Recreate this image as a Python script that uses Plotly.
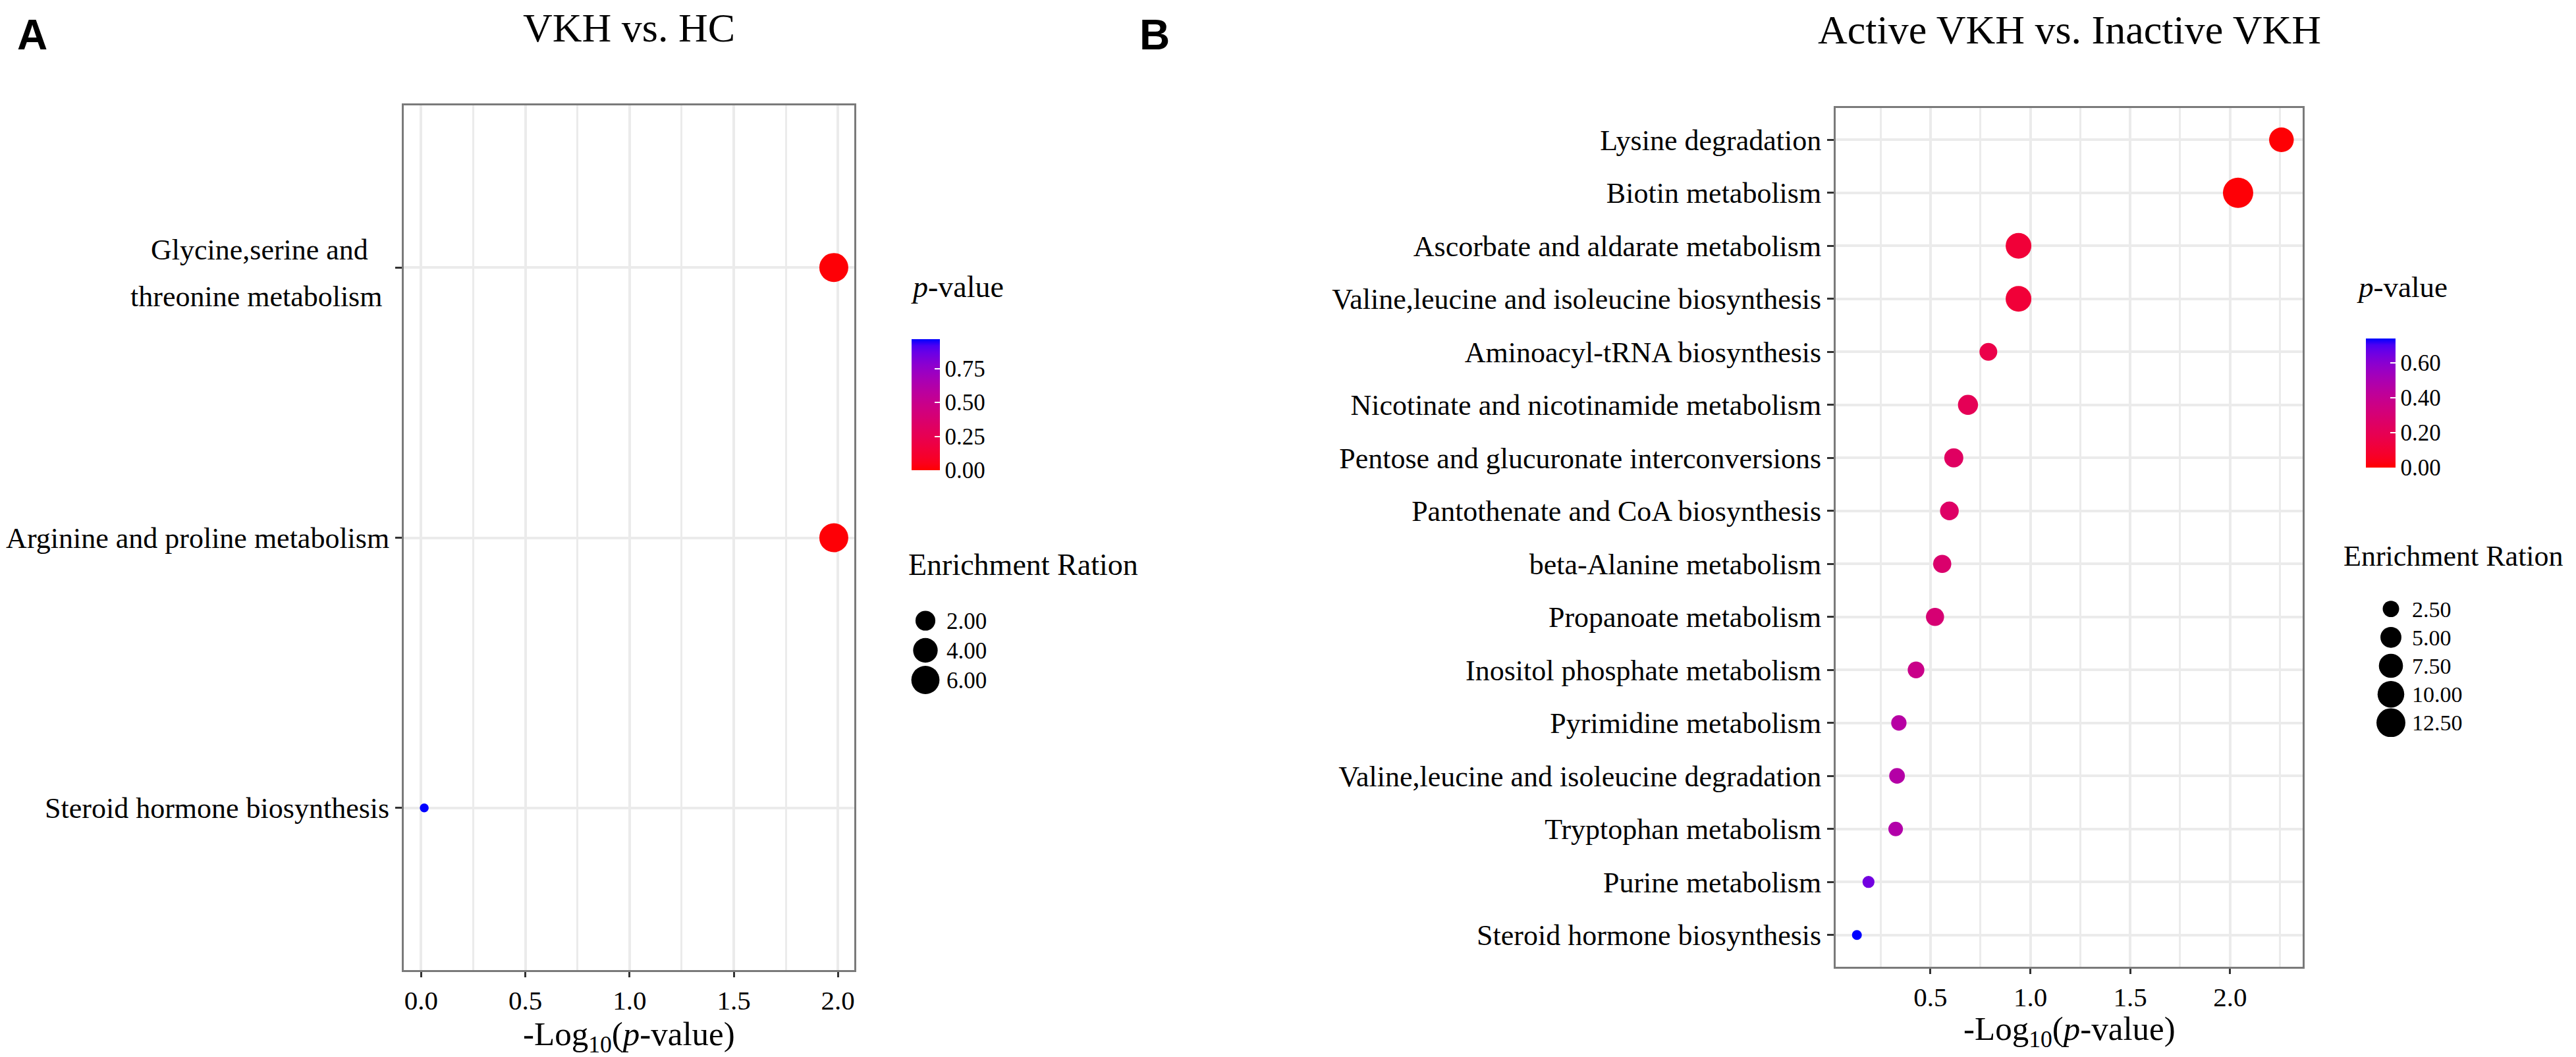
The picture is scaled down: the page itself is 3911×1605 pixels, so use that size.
import plotly.graph_objects as go

W, H = 3911, 1605

# ---------------- data ----------------
catsA = ["Glycine,serine and threonine metabolism",
         "Arginine and proline metabolism",
         "Steroid hormone biosynthesis"]
glycine_lines = ["Glycine,serine and", "threonine metabolism"]
neglogA = [1.98, 1.98, 0.015]
enrichA = [6.5, 6.5, 0.1]

catsB = ["Lysine degradation",
         "Biotin metabolism",
         "Ascorbate and aldarate metabolism",
         "Valine,leucine and isoleucine biosynthesis",
         "Aminoacyl-tRNA biosynthesis",
         "Nicotinate and nicotinamide metabolism",
         "Pentose and glucuronate interconversions",
         "Pantothenate and CoA biosynthesis",
         "beta-Alanine metabolism",
         "Propanoate metabolism",
         "Inositol phosphate metabolism",
         "Pyrimidine metabolism",
         "Valine,leucine and isoleucine degradation",
         "Tryptophan metabolism",
         "Purine metabolism",
         "Steroid hormone biosynthesis"]
neglogB = [2.257, 2.04, 0.941, 0.941, 0.79, 0.688, 0.617, 0.595,
           0.559, 0.523, 0.428, 0.342, 0.333, 0.326, 0.19, 0.132]
enrichB = [8.0, 14.2, 9.0, 9.0, 3.1, 4.4, 3.8, 3.6,
           3.3, 3.3, 2.6, 2.1, 2.2, 1.85, 1.3, 1.16]

size_breaksA = [2.0, 4.0, 6.0]
size_breaksB = [2.5, 5.0, 7.5, 10.0, 12.5]
cbar_ticksA = [0.0, 0.25, 0.5, 0.75]
cbar_ticksB = [0.0, 0.2, 0.4, 0.6]
xticksA = [0.0, 0.5, 1.0, 1.5, 2.0]
xticksB = [0.5, 1.0, 1.5, 2.0]

titleA = "VKH vs. HC"
titleB = "Active VKH vs. Inactive VKH"
xtitle = "-Log<sub>10</sub>(<i>p</i>-value)"

# p-values implied by the x axis (-log10 p)
pA = [10 ** (-v) for v in neglogA]
pB = [10 ** (-v) for v in neglogB]

SERIF = "Liberation Serif"


# ---------------- helpers ----------------
def fx(px):
    return px / W


def fy(py):
    return 1 - py / H


def lab_ramp(c1, c2, n=21):
    Xn, Yn, Zn = 0.95047, 1.0, 1.08883

    def to_lab(rgb):
        lin = []
        for c in rgb:
            c = c / 255
            lin.append(c / 12.92 if c <= 0.04045 else ((c + 0.055) / 1.055) ** 2.4)
        R, G, B = lin
        X = 0.4124564 * R + 0.3575761 * G + 0.1804375 * B
        Y = 0.2126729 * R + 0.7151522 * G + 0.0721750 * B
        Z = 0.0193339 * R + 0.1191920 * G + 0.9503041 * B

        def f(t):
            d = 6 / 29
            return t ** (1 / 3) if t > d ** 3 else t / (3 * d * d) + 4 / 29
        return (116 * f(Y / Yn) - 16, 500 * (f(X / Xn) - f(Y / Yn)),
                200 * (f(Y / Yn) - f(Z / Zn)))

    def to_rgb(L, a, b):
        d = 6 / 29
        fy_ = (L + 16) / 116
        fx_ = fy_ + a / 500
        fz_ = fy_ - b / 200

        def finv(t):
            return t ** 3 if t > d else 3 * d * d * (t - 4 / 29)
        X, Y, Z = Xn * finv(fx_), Yn * finv(fy_), Zn * finv(fz_)
        R = 3.2404542 * X - 1.5371385 * Y - 0.4985314 * Z
        G = -0.9692660 * X + 1.8760108 * Y + 0.0415560 * Z
        B = 0.0556434 * X - 0.2040259 * Y + 1.0572252 * Z
        out = []
        for c in (R, G, B):
            c = 12.92 * c if c <= 0.0031308 else 1.055 * max(c, 0) ** (1 / 2.4) - 0.055
            out.append(int(round(min(max(c, 0), 1) * 255)))
        return "rgb(%d,%d,%d)" % tuple(out)

    l1, l2 = to_lab(c1), to_lab(c2)
    scale = []
    for i in range(n):
        t = i / (n - 1)
        lab = [l1[k] + (l2[k] - l1[k]) * t for k in range(3)]
        scale.append([t, to_rgb(*lab)])
    return scale


CSCALE = lab_ramp((255, 0, 0), (0, 0, 255))


def size_map(vals, vmin, vmax, dmin, dmax):
    out = []
    for v in vals:
        t = (v - vmin) / (vmax - vmin)
        t = min(max(t, 0), 1)
        out.append(dmin + (dmax - dmin) * t ** 0.5)
    return out


def expand(vals, mult=0.05):
    lo, hi = min(vals), max(vals)
    s = hi - lo
    return [lo - mult * s, hi + mult * s]


# pixel size ranges for the size scale
DMIN_A, DMAX_A = 13.5, 44
DMIN_B, DMAX_B = 15, 46

fig = go.Figure()

# ---------------- panel A ----------------
fig.add_trace(go.Scatter(
    x=neglogA, y=catsA, mode="markers", xaxis="x", yaxis="y",
    marker=dict(size=size_map(enrichA, min(enrichA), max(enrichA), DMIN_A, DMAX_A),
                color=pA, coloraxis="coloraxis", line=dict(width=0), opacity=1),
    showlegend=False, hoverinfo="skip"))

# ---------------- panel B ----------------
fig.add_trace(go.Scatter(
    x=neglogB, y=catsB, mode="markers", xaxis="x2", yaxis="y2",
    marker=dict(size=size_map(enrichB, min(enrichB), max(enrichB), DMIN_B, DMAX_B),
                color=pB, coloraxis="coloraxis2", line=dict(width=0), opacity=1),
    showlegend=False, hoverinfo="skip"))

# ---------------- size legends ----------------
labA = ["%.2f" % v for v in size_breaksA]
labB = ["%.2f" % v for v in size_breaksB]
fig.add_trace(go.Scatter(
    x=[0] * len(size_breaksA), y=labA, mode="markers", xaxis="x3", yaxis="y3",
    marker=dict(size=size_map(size_breaksA, min(enrichA), max(enrichA), DMIN_A, DMAX_A),
                color="#000000", line=dict(width=0), opacity=1),
    showlegend=False, hoverinfo="skip"))
fig.add_trace(go.Scatter(
    x=[0] * len(size_breaksB), y=labB, mode="markers", xaxis="x4", yaxis="y4",
    marker=dict(size=size_map(size_breaksB, min(enrichB), max(enrichB), DMIN_B, DMAX_B),
                color="#000000", line=dict(width=0), opacity=1),
    showlegend=False, hoverinfo="skip"))

GRID = "#EBEBEB"
BORDER = "#7A7A7A"


def xaxis_cfg(domain, rng, tickvals):
    return dict(domain=domain, range=rng, tickmode="array", tickvals=tickvals,
                ticktext=["%.1f" % v for v in tickvals],
                showgrid=True, gridcolor=GRID, gridwidth=3.5,
                minor=dict(tick0=0, dtick=0.25, showgrid=True, gridcolor=GRID,
                           gridwidth=2.5, ticks=""),
                zeroline=False, showline=True, mirror=True, linecolor=BORDER,
                linewidth=3, ticks="outside", ticklen=8, tickwidth=3,
                tickcolor="#333333",
                tickfont=dict(family=SERIF, size=41, color="black"))


def yaxis_cfg(domain, cats, ticktext, anchor):
    n = len(cats)
    return dict(domain=domain, type="category", categoryorder="array",
                categoryarray=cats[::-1], range=[-0.6, n - 1 + 0.6],
                tickmode="array", tickvals=cats, ticktext=ticktext,
                showgrid=True, gridcolor=GRID, gridwidth=3.5, zeroline=False,
                showline=True, mirror=True, linecolor=BORDER, linewidth=3,
                ticks="outside", ticklen=10, tickwidth=3, tickcolor="#333333",
                tickfont=dict(family=SERIF, size=44, color="black"), anchor=anchor)


# panel A: the two-line label is drawn as annotations (wider line spacing)
ticktextA = [""] + catsA[1:]


def cbar(x_left, y_bottom, length, thick, ticks):
    return dict(x=fx(x_left), xanchor="left", xpad=0,
                y=fy(y_bottom), yanchor="bottom", ypad=0,
                len=length, lenmode="pixels", thickness=thick,
                thicknessmode="pixels", outlinewidth=0,
                tickmode="array", tickvals=ticks,
                ticktext=["%.2f" % v for v in ticks],
                ticks="inside", ticklen=8, tickwidth=2, tickcolor="white",
                tickfont=dict(family=SERIF, size=35, color="black"))


fig.update_layout(
    width=W, height=H, margin=dict(l=0, r=0, t=0, b=0),
    paper_bgcolor="white", plot_bgcolor="white",
    font=dict(family=SERIF, color="black"),
    xaxis=dict(**xaxis_cfg([fx(605), fx(1289)], expand(neglogA), xticksA), anchor="y"),
    yaxis=yaxis_cfg([fy(1465), fy(152)], catsA, ticktextA, "x"),
    xaxis2=dict(**xaxis_cfg([fx(2779), fx(3488)], expand(neglogB), xticksB), anchor="y2"),
    yaxis2=yaxis_cfg([fy(1460), fy(156)], catsB, catsB, "x2"),
    xaxis3=dict(domain=[fx(1366), fx(1428)], range=[-1, 1], visible=False, anchor="y3"),
    yaxis3=dict(domain=[fy(1047), fy(912)], type="category", categoryorder="array",
                categoryarray=labA, range=[len(labA) - 0.5, -0.5], side="right",
                anchor="x3", showgrid=False, zeroline=False, showline=False, ticks="",
                tickfont=dict(family=SERIF, size=35, color="black")),
    xaxis4=dict(domain=[fx(3591), fx(3653)], range=[-1, 1], visible=False, anchor="y4"),
    yaxis4=dict(domain=[fy(1111), fy(895)], type="category", categoryorder="array",
                categoryarray=labB, range=[len(labB) - 0.5, -0.5], side="right",
                anchor="x4", showgrid=False, zeroline=False, showline=False, ticks="",
                tickfont=dict(family=SERIF, size=34, color="black")),
    coloraxis=dict(colorscale=CSCALE, cmin=0, cmax=max(pA),
                   colorbar=cbar(1376, 706, 199, 43, cbar_ticksA)),
    coloraxis2=dict(colorscale=CSCALE, cmin=0, cmax=max(pB),
                    colorbar=cbar(3584, 702, 196, 45, cbar_ticksB)),
)

ann = []


def add_text(text, x, y, size, xanchor="center", family=SERIF, bold=False):
    t = "<b>%s</b>" % text if bold else text
    ann.append(dict(text=t, x=fx(x), y=fy(y), xref="paper", yref="paper",
                    xanchor=xanchor, yanchor="middle", showarrow=False,
                    font=dict(family=family, size=size, color="black")))


add_text("A", 16, 45, 64, xanchor="left", family="Liberation Sans", bold=True)
add_text("B", 1720, 45, 64, xanchor="left", family="Liberation Sans", bold=True)
add_text(titleA, (605 + 1289) / 2, 34, 62)
add_text(titleB, (2779 + 3488) / 2, 37, 62)
add_text(xtitle, (605 + 1289) / 2, 1566, 51)
add_text(xtitle, (2779 + 3488) / 2, 1558, 51)
add_text("<i>p</i>-value", 1373, 428, 46, xanchor="left")
add_text("Enrichment Ration", 1369, 849, 46, xanchor="left")
add_text("<i>p</i>-value", 3568, 428, 45, xanchor="left")
add_text("Enrichment Ration", 3548, 836, 44, xanchor="left")

# two-line tick label of the first category in panel A
for line, right_px, shift in zip(glycine_lines, [553, 574], [27, -44]):
    ann.append(dict(text=line, x=fx(right_px), y=catsA[0], xref="paper", yref="y",
                    xanchor="right", yanchor="middle", yshift=shift, showarrow=False,
                    font=dict(family=SERIF, size=44, color="black")))

fig.update_layout(annotations=ann)

fig.write_html("out.html")
